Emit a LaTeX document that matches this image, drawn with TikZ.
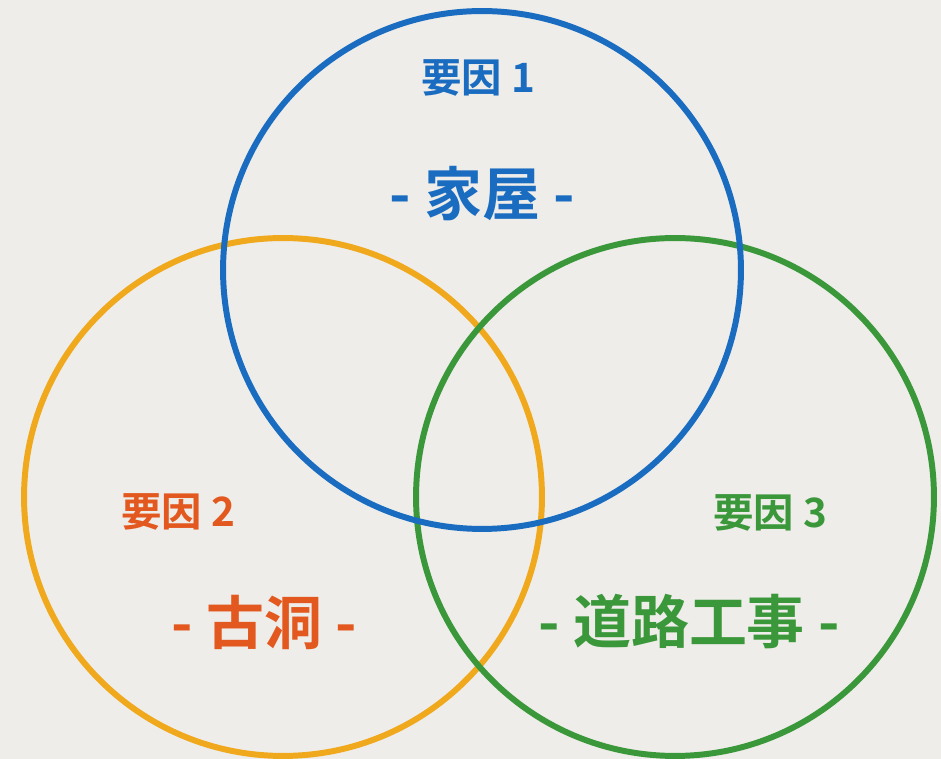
\documentclass[tikz,border=0pt]{standalone}
\usepackage{fontspec}
\setmainfont{Noto Sans CJK JP}[BoldFont={Noto Sans CJK JP Bold}]
\definecolor{paper}{HTML}{EEEDE9}
\definecolor{houseblue}{HTML}{1A6CC0}
\definecolor{holeyellow}{HTML}{F0A81C}
\definecolor{holered}{HTML}{E2581E}
\definecolor{roadgreen}{HTML}{3A973A}

\begin{document}
\begin{tikzpicture}[x=0.02cm, y=-0.02cm,
    ring/.style={circle, draw, line width=3.4pt, minimum size=10.36cm, inner sep=0pt},
    tag/.style={font=\fontsize{23}{27}\selectfont\bfseries},
    title/.style={font=\fontsize{33}{40}\selectfont\bfseries}]

  \fill[paper] (0,0) rectangle (941,759);
  \useasboundingbox (0,0) rectangle (941,759);

  % the three factors
  \node[ring, draw=holeyellow] (hole) at (283,497) {};
  \node[ring, draw=roadgreen] (road) at (675,497) {};
  \node[ring, draw=houseblue] (house) at (482,270) {};

  \node[tag, text=houseblue] (house tag) at (478,78) {要因 1};
  \node[title, text=houseblue] (house name) at (482,194) {- 家屋 -};

  \node[tag, text=holered] (hole tag) at (178,512) {要因 2};
  \node[title, text=holered] (hole name) at (264,622) {- 古洞 -};

  \node[tag, text=roadgreen] (road tag) at (770,513) {要因 3};
  \node[title, text=roadgreen] (road name) at (689,622) {- 道路工事 -};
\end{tikzpicture}
\end{document}
